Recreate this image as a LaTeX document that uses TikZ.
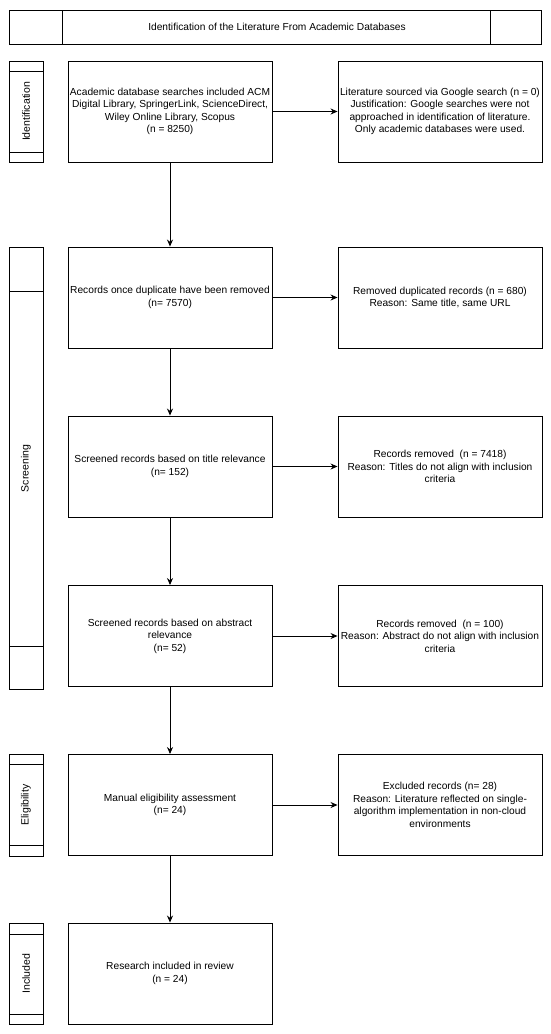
\documentclass[tikz,border=0pt]{standalone}
\usepackage{fontspec}
\setmainfont{Liberation Sans}
\usetikzlibrary{arrows.meta}
\begin{document}
\begin{tikzpicture}[x=1pt,y=-1pt,
  box/.style={draw, line width=0.9pt, minimum width=204pt, minimum height=101pt, align=center, inner sep=0pt, font=\fontsize{10.2}{12.5}\selectfont, text=black},
  lanebar/.style={draw, line width=0.9pt},
  arr/.style={-{Stealth[length=7pt,width=6pt]}, line width=0.9pt},
  lbl/.style={rotate=90, inner sep=0pt, font=\fontsize{10.5}{12}\selectfont}
]
\useasboundingbox (0,0) rectangle (550,1034);
\fill[white] (0,0) rectangle (550,1034);

% top bar
\draw[lanebar] (9,10) rectangle (541,44);
\draw[lanebar] (62,10) -- (62,44);
\draw[lanebar] (490,10) -- (490,44);
\node[font=\fontsize{10.2}{12}\selectfont] (title) at (277,27) {Identification of the Literature From Academic Databases};

% side lanes
\draw[lanebar] (9,61) rectangle (43,162);
\draw[lanebar] (9,71) -- (43,71);
\draw[lanebar] (9,152) -- (43,152);
\node[lbl] (lid) at (26,111.5) {Identification};

\draw[lanebar] (9,247) rectangle (43,689);
\draw[lanebar] (9,291) -- (43,291);
\draw[lanebar] (9,646) -- (43,646);
\node[lbl] (lscr) at (26,468.5) {Screening};

\draw[lanebar] (9,754) rectangle (43,856);
\draw[lanebar] (9,764) -- (43,764);
\draw[lanebar] (9,845) -- (43,845);
\node[lbl] (lel) at (26,805) {Eligibility};

\draw[lanebar] (9,923) rectangle (43,1024);
\draw[lanebar] (9,934) -- (43,934);
\draw[lanebar] (9,1014) -- (43,1014);
\node[lbl] (lin) at (26,973.5) {Included};

% main boxes
\node[box] (b1) at (170,111.5) {Academic database searches included ACM\\Digital Library, SpringerLink, ScienceDirect,\\Wiley Online Library, Scopus\\(n = 8250)};
\node[box] (r1) at (440,111.5) {Literature sourced via Google search (n = 0)\\Justification: Google searches were not\\approached in identification of literature.\\Only academic databases were used.};

\node[box] (b2) at (170,297.5) {Records once duplicate have been removed\\(n= 7570)};
\node[box] (r2) at (440,297.5) {Removed duplicated records (n = 680)\\Reason: Same title, same URL};

\node[box] (b3) at (170,466.5) {Screened records based on title relevance\\(n= 152)};
\node[box] (r3) at (440,466.5) {Records removed~~(n = 7418)\\Reason: Titles do not align with inclusion\\criteria};

\node[box] (b4) at (170,636) {Screened records based on abstract\\relevance\\(n= 52)};
\node[box] (r4) at (440,636) {Records removed~~(n = 100)\\Reason: Abstract do not align with inclusion\\criteria};

\node[box] (b5) at (170,805) {Manual eligibility assessment\\(n= 24)};
\node[box] (r5) at (440,805) {Excluded records (n= 28)\\Reason: Literature reflected on single-\\algorithm implementation in non-cloud\\environments};

\node[box] (b6) at (170,973.5) {Research included in review\\(n = 24)};

% connectors
\draw[arr] (b1) -- (r1);
\draw[arr] (b2) -- (r2);
\draw[arr] (b3) -- (r3);
\draw[arr] (b4) -- (r4);
\draw[arr] (b5) -- (r5);
\draw[arr] (b1) -- (b2);
\draw[arr] (b2) -- (b3);
\draw[arr] (b3) -- (b4);
\draw[arr] (b4) -- (b5);
\draw[arr] (b5) -- (b6);
\end{tikzpicture}
\end{document}
